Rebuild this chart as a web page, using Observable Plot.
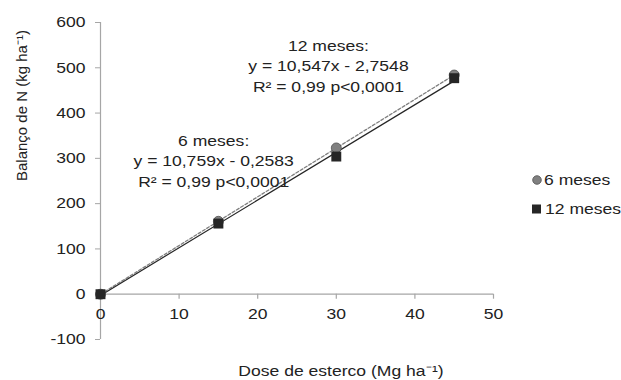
<!DOCTYPE html>
<html>
<head>
<meta charset="utf-8">
<script src="https://cdn.jsdelivr.net/npm/d3@7"></script>
<script src="https://cdn.jsdelivr.net/npm/@observablehq/plot@0.6"></script>
<style>
  html, body { margin: 0; padding: 0; background: #fff; }
  #wrap { position: relative; width: 621px; height: 380px; overflow: hidden; font-family: "Liberation Sans", Arial, sans-serif; }
  #legend { position: absolute; left: 531px; top: 165px; font-size: 15px; color: #222; line-height: 29px; }
  #legend div { display: flex; align-items: center; white-space: nowrap; }
  #legend svg { margin-right: 1px; }
  #legend span { display: inline-block; transform: scaleX(1.17); transform-origin: left center; }
</style>
</head>
<body>
<div id="wrap">
  <div id="chart"></div>
  <div id="legend"></div>
</div>
<script>
// ---- data ----
const doses = [0, 15, 30, 45];
const balanco6 = [0, 161, 323, 484];
const balanco12 = [0, 156, 304, 477];
const seriesNames = ["6 meses", "12 meses"];
const xTicks = [0, 10, 20, 30, 40, 50];
const yTicks = [-100, 0, 100, 200, 300, 400, 500, 600];
const annoText = [
  "6 meses:\ny = 10,759x - 0,2583\nR² = 0,99 p<0,0001",
  "12 meses:\ny = 10,547x - 2,7548\nR² = 0,99 p<0,0001"
];
const annoX = [14.4, 29.0];
const annoY = [297, 507];
const xLabel = "Dose de esterco (Mg ha⁻¹)";
const yLabel = "Balanço de N (kg ha⁻¹)";

// ---- tables ----
const d6 = doses.map((x, i) => ({x, y: balanco6[i]}));
const d12 = doses.map((x, i) => ({x, y: balanco12[i]}));
const annos = annoText.map((t, i) => ({x: annoX[i], y: annoY[i], t}));

const gray = "#a6a6a6";
const ink = "#222";
const font = "Liberation Sans, Arial, sans-serif";
const stretch = 1.17; // the reference's lettering is horizontally widened

const chart = Plot.plot({
  width: 621,
  height: 380,
  marginLeft: 100,
  marginRight: 128,
  marginTop: 22,
  marginBottom: 41,
  style: {fontFamily: font, fontSize: "15px", color: ink, background: "transparent"},
  x: {domain: [0, 50], axis: null},
  y: {domain: [-100, 600], axis: null},
  marks: [
    // y axis
    Plot.ruleX([0], {y1: -100, y2: 600, stroke: gray, strokeWidth: 1.2}),
    Plot.axisY(yTicks, {tickSize: 5, tickPadding: 10, stroke: gray, fill: ink, fontSize: 15, tickFormat: d => String(d), label: null}),
    // x axis at y = 0
    Plot.ruleY([0], {x1: 0, x2: 50, stroke: gray, strokeWidth: 1.2}),
    Plot.ruleX(xTicks, {x: d => d, y1: 0, y2: 0, insetBottom: -5, stroke: gray, strokeWidth: 1.2}),
    Plot.text(xTicks, {x: d => d, y: 0, dy: 20, text: d => String(d), fill: ink, fontSize: 15}),
    // axis titles
    Plot.text([yLabel], {frameAnchor: "left", dx: -78, rotate: -90, fill: ink, fontSize: 15}),
    Plot.text([xLabel], {frameAnchor: "bottom", dx: 44, dy: 36, fill: ink, fontSize: 15}),
    // trend lines
    Plot.linearRegressionY(d6, {x: "x", y: "y", stroke: "#7f7f7f", strokeWidth: 1.3, strokeDasharray: "3,2", ci: 0}),
    Plot.linearRegressionY(d12, {x: "x", y: "y", stroke: "#262626", strokeWidth: 1.2, ci: 0}),
    // points
    Plot.dot(d6, {x: "x", y: "y", r: 5, fill: "#808080", stroke: "#505050", strokeWidth: 0.8}),
    Plot.dot(d12, {x: "x", y: "y", r: 5.6, symbol: "square", fill: "#262626"}),
    // annotations
    Plot.text(annos, {x: "x", y: "y", text: "t", fill: ink, fontSize: 15, lineHeight: 1.37, textAnchor: "middle"})
  ]
});
document.getElementById("chart").appendChild(chart);

// widen horizontal lettering about each text's anchor
d3.select(chart).selectAll("text").each(function() {
  const t = this.getAttribute("transform") || "";
  if (t.includes("rotate")) return;
  if (t) {
    this.setAttribute("transform", t + ` scale(${stretch},1)`);
  } else {
    const x = +(this.getAttribute("x") || 0), y = +(this.getAttribute("y") || 0);
    this.setAttribute("transform", `translate(${x},${y}) scale(${stretch},1) translate(${-x},${-y})`);
  }
});

// legend
const legend = d3.select("#legend");
const l1 = legend.append("div");
l1.append("svg").attr("width", 12).attr("height", 12)
  .append("circle").attr("cx", 6).attr("cy", 6).attr("r", 4.3).attr("fill", "#808080").attr("stroke", "#505050").attr("stroke-width", 0.8);
l1.append("span").text(seriesNames[0]);
const l2 = legend.append("div");
l2.append("svg").attr("width", 13).attr("height", 12)
  .append("rect").attr("x", 1).attr("y", 1.5).attr("width", 9).attr("height", 9).attr("fill", "#262626");
l2.append("span").text(seriesNames[1]);
</script>
</body>
</html>
